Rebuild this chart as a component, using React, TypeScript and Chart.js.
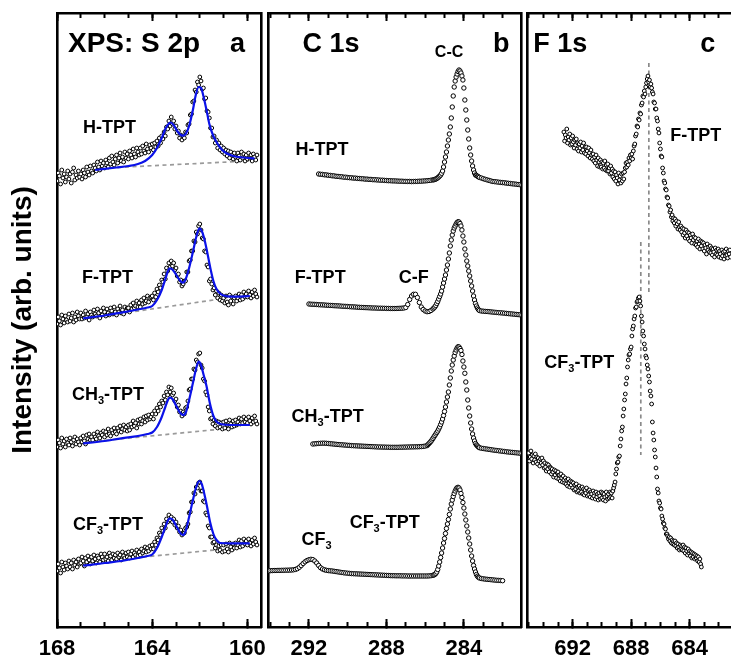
import React, { useEffect, useRef } from "react";
import { Chart, registerables } from "chart.js";

Chart.register(...registerables);

const FONT = '"Liberation Sans", Arial, Helvetica, sans-serif';

// ---------------- Panel a: S 2p (step 0.05 eV from 168.0 eV) ----------------
const aStart = 168.0;
const aStep = 0.05;
const aH = [
  44.6, 45.4, 45.1, 44.3, 45.7, 44.9, 45.3, 44.5, 45.0, 45.6,
  44.8, 45.3, 44.4, 45.5, 45.9, 44.7, 45.2, 44.9, 45.6, 45.0,
  45.3, 44.8, 45.7, 45.4, 45.0, 46.0, 45.5, 45.2, 46.1, 45.6,
  45.4, 46.2, 45.9, 45.6, 46.5, 46.0, 45.7, 46.6, 46.1, 46.4,
  45.9, 46.7, 46.4, 46.0, 46.9, 46.3, 47.1, 46.5, 46.2, 46.8,
  47.2, 46.4, 46.9, 47.4, 46.6, 47.0, 46.5, 47.5, 46.9, 47.3,
  46.8, 47.6, 47.2, 46.9, 47.8, 47.3, 47.0, 47.9, 47.5, 47.2,
  47.9, 47.3, 48.1, 47.6, 47.4, 48.3, 47.8, 47.5, 48.2, 47.9,
  48.3, 47.7, 48.4, 48.0, 48.6, 48.1, 48.9, 48.4, 49.1, 48.8,
  49.5, 49.1, 50.0, 49.8, 50.6, 50.1, 51.0, 50.3, 50.6, 49.8,
  50.1, 49.4, 49.6, 48.9, 49.2, 48.7, 49.1, 48.9, 49.5, 49.4,
  50.2, 50.3, 51.2, 51.3, 52.5, 52.6, 53.7, 53.5, 54.5, 54.2,
  55.0, 54.6, 53.8, 53.9, 52.8, 52.9, 51.6, 51.5, 50.9, 49.9,
  49.9, 49.0, 49.1, 48.4, 48.7, 47.9, 48.4, 47.7, 48.1, 47.5,
  47.9, 47.3, 47.7, 47.1, 47.6, 46.9, 47.5, 47.2, 46.8, 47.4,
  47.0, 46.6, 47.4, 47.1, 46.7, 47.5, 46.9, 47.3, 46.6, 47.2,
  46.8, 47.4, 46.9, 47.2, 46.6, 47.3, 47.0, 46.7, 47.2,
];
const aF = [
  30.3, 31.0, 30.6, 30.2, 31.2, 30.8, 30.4, 31.1, 30.7, 30.5,
  31.3, 30.6, 30.9, 31.4, 30.5, 31.0, 30.7, 31.5, 31.1, 30.8,
  31.4, 30.8, 31.2, 30.9, 31.6, 31.0, 31.3, 30.7, 31.5, 31.2,
  31.0, 31.7, 31.3, 31.1, 31.8, 31.4, 30.9, 31.6, 31.2, 31.9,
  31.5, 31.1, 31.8, 31.4, 31.2, 31.9, 31.6, 31.3, 32.0, 31.5,
  31.2, 31.8, 31.5, 32.1, 31.4, 31.7, 31.3, 32.0, 31.6, 31.9,
  31.9, 31.5, 32.2, 31.8, 32.4, 31.9, 32.1, 32.6, 32.0, 32.4,
  32.0, 32.7, 32.3, 32.9, 32.4, 32.6, 33.1, 32.5, 32.9, 33.0,
  33.1, 32.7, 33.4, 33.0, 33.8, 33.5, 34.2, 33.9, 34.7, 34.5,
  35.3, 34.8, 35.9, 35.6, 36.4, 36.0, 36.6, 36.1, 36.4, 35.7,
  35.9, 35.1, 35.3, 34.5, 34.7, 34.1, 34.3, 34.6, 34.6, 35.5,
  35.5, 36.6, 36.7, 37.6, 37.6, 38.6, 38.5, 39.5, 39.3, 40.1,
  40.3, 39.7, 38.9, 38.8, 37.6, 37.5, 36.2, 36.0, 34.6, 34.8,
  34.3, 33.7, 33.9, 33.2, 33.6, 32.9, 33.4, 32.7, 33.2, 32.6,
  32.9, 32.4, 33.1, 32.5, 32.2, 33.2, 32.6, 33.0, 32.3, 32.9,
  33.1, 32.6, 32.9, 33.3, 32.7, 33.2, 32.8, 33.5, 33.0, 33.3,
  33.0, 33.6, 33.2, 32.9, 33.5, 33.1, 33.7, 33.3, 33.0,
];
const aCH3 = [
  18.0, 18.7, 18.4, 17.9, 18.9, 18.3, 18.6, 18.0, 18.8, 18.4,
  18.2, 18.9, 18.5, 18.1, 18.7, 19.0, 18.3, 18.8, 18.5, 18.2,
  18.9, 18.5, 19.1, 18.6, 18.3, 19.2, 18.8, 19.3, 18.7, 19.0,
  18.7, 19.3, 19.0, 18.8, 19.5, 19.1, 18.9, 19.4, 19.2, 19.6,
  19.0, 19.5, 19.2, 19.8, 19.3, 19.1, 19.7, 19.4, 19.9, 19.5,
  19.3, 19.9, 19.6, 20.1, 19.5, 19.8, 20.2, 19.7, 20.0, 19.6,
  20.2, 19.7, 20.3, 20.0, 20.6, 20.1, 20.4, 19.9, 20.7, 20.3,
  20.8, 20.3, 20.6, 21.0, 20.5, 21.1, 20.7, 21.2, 20.8, 21.0,
  21.3, 20.8, 21.6, 21.3, 21.9, 21.6, 22.3, 22.0, 22.6, 22.4,
  23.1, 22.7, 23.5, 23.2, 24.0, 23.5, 23.9, 23.2, 23.4, 22.6,
  22.8, 22.0, 22.2, 21.5, 21.6, 21.1, 21.5, 21.3, 21.9, 22.0,
  22.6, 23.7, 23.8, 24.8, 24.8, 25.8, 25.7, 26.7, 26.5, 27.3,
  27.4, 26.2, 25.9, 24.8, 24.6, 23.5, 23.2, 22.0, 21.6, 20.8,
  20.9, 20.3, 20.7, 20.1, 20.6, 19.9, 20.5, 20.0, 20.4, 19.8,
  20.5, 19.9, 20.6, 20.2, 19.8, 20.7, 20.3, 20.0, 20.6, 20.1,
  20.7, 20.2, 20.5, 20.9, 20.3, 20.8, 20.4, 21.0, 20.5, 20.8,
  20.4, 21.0, 20.6, 20.3, 20.9, 20.5, 21.1, 20.6, 20.3,
];
const aCF3 = [
  5.6, 6.3, 5.9, 5.4, 6.5, 6.0, 5.7, 6.4, 6.1, 5.8,
  6.6, 6.0, 6.4, 5.8, 6.7, 6.2, 6.5, 6.0, 6.8, 6.3,
  6.4, 7.0, 6.6, 6.1, 6.9, 6.5, 7.1, 6.7, 6.3, 7.0,
  6.6, 7.2, 6.8, 6.4, 7.1, 6.9, 6.5, 7.3, 7.0, 6.7,
  7.3, 6.8, 7.0, 6.6, 7.4, 7.1, 6.7, 7.3, 6.9, 7.2,
  6.8, 7.4, 7.0, 7.2, 6.7, 7.5, 7.1, 6.9, 7.4, 7.0,
  7.5, 6.9, 7.3, 7.6, 7.0, 7.4, 7.2, 7.7, 7.1, 7.5,
  7.2, 7.8, 7.4, 7.6, 8.0, 7.5, 7.9, 7.6, 8.1, 7.8,
  8.2, 7.8, 8.5, 8.2, 8.9, 8.7, 9.4, 9.2, 9.9, 9.6,
  10.3, 9.9, 10.8, 10.5, 11.2, 10.7, 11.0, 10.5, 10.8, 10.2,
  10.5, 9.9, 10.1, 9.5, 9.7, 9.2, 9.4, 9.4, 9.9, 10.0,
  10.3, 11.4, 11.5, 12.5, 12.5, 13.4, 13.3, 14.0, 13.9, 14.4,
  14.5, 13.6, 13.6, 12.6, 12.5, 11.4, 11.2, 10.1, 9.9, 9.0,
  9.0, 8.4, 8.5, 7.9, 8.2, 7.6, 8.1, 7.7, 8.2, 7.5,
  8.2, 7.6, 8.3, 7.8, 7.5, 8.4, 8.0, 7.7, 8.3, 7.9,
  8.4, 7.9, 8.2, 8.7, 8.0, 8.6, 8.1, 8.8, 8.3, 8.6,
  8.2, 8.8, 8.4, 8.1, 8.7, 8.3, 8.9, 8.5, 8.2,
];
// fitted envelopes [binding energy, intensity]
const aFitH = [
  [166.4, 45.7], [165.5, 45.95], [165.0, 46.1], [164.6, 46.3], [164.3, 46.6], [164.0, 47.2],
  [163.8, 47.9], [163.6, 48.9], [163.45, 49.8], [163.3, 50.35], [163.22, 50.45], [163.1, 50.2],
  [162.95, 49.6], [162.8, 49.2], [162.7, 49.13], [162.58, 49.35], [162.45, 50.1], [162.3, 51.6],
  [162.17, 53.2], [162.05, 54.0], [161.95, 53.9], [161.85, 53.1], [161.72, 51.7], [161.6, 50.3],
  [161.45, 49.2], [161.3, 48.5], [161.1, 47.8], [160.9, 47.4], [160.6, 47.1], [160.2, 46.95], [159.7, 46.85],
];
const aFitF = [
  [166.9, 30.87], [166.0, 31.15], [165.3, 31.43], [164.6, 31.75], [164.2, 31.95], [164.0, 32.1],
  [163.8, 32.7], [163.6, 33.7], [163.45, 34.8], [163.32, 35.7], [163.25, 35.87], [163.15, 35.75],
  [163.0, 35.25], [162.85, 34.7], [162.72, 34.43], [162.6, 34.75], [162.45, 35.9], [162.3, 37.4],
  [162.15, 39.0], [162.02, 39.87], [161.9, 39.5], [161.8, 38.7], [161.7, 37.6], [161.55, 35.8],
  [161.43, 34.6], [161.3, 33.8], [161.15, 33.35], [161.0, 33.15], [160.66, 33.03], [159.9, 33.1],
];
const aFitCH3 = [
  [166.9, 18.37], [166.0, 18.6], [165.3, 18.87], [164.6, 19.1], [164.2, 19.3], [164.0, 19.45],
  [163.8, 20.0], [163.6, 21.0], [163.45, 22.0], [163.32, 22.8], [163.25, 22.93], [163.15, 22.8],
  [163.0, 22.15], [162.85, 21.5], [162.7, 21.2], [162.58, 21.5], [162.45, 22.7], [162.3, 24.3],
  [162.15, 25.9], [162.05, 26.55], [161.95, 26.2], [161.85, 25.3], [161.72, 24.1], [161.58, 22.4],
  [161.43, 21.1], [161.3, 20.55], [161.1, 20.28], [160.7, 20.2], [159.9, 20.2],
];
const aFitCF3 = [
  [166.9, 6.13], [166.0, 6.4], [165.3, 6.6], [164.6, 6.9], [164.2, 7.1], [164.0, 7.25],
  [163.8, 7.9], [163.6, 9.0], [163.45, 10.0], [163.32, 10.75], [163.25, 10.87], [163.15, 10.75],
  [163.0, 10.15], [162.85, 9.5], [162.72, 9.2], [162.6, 9.55], [162.45, 11.0], [162.3, 12.6],
  [162.15, 14.0], [162.03, 14.6], [161.92, 14.3], [161.82, 13.4], [161.71, 12.2], [161.57, 10.5],
  [161.43, 9.3], [161.3, 8.7], [161.15, 8.4], [160.7, 8.37], [159.9, 8.37],
];
// background lines
const aBgH = [[166.4, 45.85], [159.7, 46.63]];
const aBgF = [[166.9, 30.8], [161.0, 32.85]];
const aBgCH3 = [[166.9, 18.45], [161.4, 19.72]];
const aBgCF3 = [[166.9, 6.4], [161.3, 7.72]];

// ---------------- Panel b: C 1s (segments: 0.1 eV / 0.05 eV / 0.1 eV) ----------------
const bH_starts = [291.5, 285.55, 283.1];
const bH_left = [
  45.30, 45.27, 45.26, 45.22, 45.21, 45.17, 45.16, 45.12, 45.11, 45.07,
  45.06, 45.03, 45.02, 44.98, 44.98, 44.95, 44.93, 44.92, 44.89, 44.89,
  44.86, 44.85, 44.83, 44.82, 44.79, 44.79, 44.76, 44.76, 44.73, 44.73,
  44.71, 44.70, 44.68, 44.68, 44.66, 44.65, 44.63, 44.63, 44.61, 44.61,
  44.60, 44.59, 44.58, 44.58, 44.56, 44.56, 44.55, 44.56, 44.54, 44.55,
  44.56, 44.56, 44.58, 44.58, 44.60, 44.61, 44.63, 44.65, 44.68, 44.71,
];
const bH_peak = [
  44.73, 44.75, 44.80, 44.85, 44.92, 45.00, 45.10, 45.20, 45.37, 45.60,
  46.00, 46.50, 47.00, 47.50, 48.10, 48.70, 49.30, 50.00, 50.90, 52.00,
  53.10, 54.00, 54.60, 55.00, 55.30, 55.55, 55.70, 55.60, 55.40, 55.10,
  54.70, 53.90, 52.70, 51.70, 50.70, 49.70, 48.80, 47.90, 47.20, 46.60,
  46.10, 45.70, 45.40, 45.20, 45.15, 45.08, 45.02, 44.96,
];
const bH_right = [
  44.90, 44.83, 44.77, 44.71, 44.66, 44.60, 44.55, 44.53, 44.51, 44.48, 44.46,
  44.44, 44.42, 44.39, 44.37, 44.35, 44.32, 44.30, 44.28, 44.25, 44.23, 44.20,
];
const bF_starts = [292.0, 285.55, 283.1];
const bF_left = [
  32.30, 32.28, 32.27, 32.26, 32.25, 32.23, 32.22, 32.21, 32.20, 32.18,
  32.17, 32.16, 32.15, 32.13, 32.12, 32.11, 32.10, 32.08, 32.07, 32.06,
  32.05, 32.03, 32.02, 32.01, 32.00, 31.98, 31.97, 31.96, 31.95, 31.94,
  31.93, 31.92, 31.91, 31.90, 31.90, 31.89, 31.88, 31.88, 31.87, 31.87,
  31.86, 31.86, 31.85, 31.85, 31.85, 31.85, 31.86, 31.87, 31.88, 31.90,
  31.95, 32.25, 32.75, 33.10, 33.27, 33.27, 32.95, 32.45, 32.00, 31.75,
  31.60, 31.53, 31.55, 31.65, 31.80,
];
const bF_peak = [
  31.90, 32.00, 32.15, 32.35, 32.55, 32.80, 33.05, 33.30, 33.60, 34.00,
  34.40, 34.80, 35.20, 35.70, 36.20, 36.80, 37.40, 38.10, 38.70, 39.20,
  39.60, 39.90, 40.10, 40.30, 40.45, 40.53, 40.50, 40.35, 40.10, 39.70,
  39.10, 38.50, 37.80, 37.20, 36.60, 36.10, 35.60, 35.10, 34.60, 34.10,
  33.60, 33.10, 32.70, 32.35, 32.10, 31.90, 31.75, 31.65,
];
const bF_right = [
  31.60, 31.58, 31.56, 31.55, 31.53, 31.51, 31.49, 31.47, 31.45, 31.43, 31.42,
  31.40, 31.38, 31.36, 31.34, 31.32, 31.30, 31.28, 31.26, 31.24, 31.22, 31.20,
];
const bCH3_starts = [291.8, 285.85, 283.1];
const bCH3_left = [
  18.30, 18.32, 18.34, 18.36, 18.37, 18.38, 18.38, 18.37, 18.35, 18.33,
  18.31, 18.29, 18.27, 18.25, 18.23, 18.22, 18.20, 18.19, 18.17, 18.16,
  18.14, 18.13, 18.12, 18.11, 18.10, 18.09, 18.08, 18.07, 18.06, 18.05,
  18.04, 18.03, 18.02, 18.01, 18.00, 18.00, 17.99, 17.99, 17.98, 17.98,
  17.97, 17.97, 17.97, 17.97, 17.97, 17.98, 17.98, 17.99, 17.99, 18.00,
  18.00, 18.01, 18.01, 18.02, 18.02, 18.03, 18.04, 18.06, 18.09, 18.14,
];
const bCH3_peak = [
  18.25, 18.35, 18.45, 18.57, 18.70, 18.85, 19.00, 19.15, 19.30, 19.45,
  19.60, 19.80, 20.00, 20.25, 20.50, 20.80, 21.15, 21.55, 22.00, 22.50,
  23.00, 23.50, 24.20, 24.90, 25.60, 26.20, 26.70, 27.10, 27.45, 27.70,
  27.90, 28.03, 28.00, 27.85, 27.65, 27.25, 26.60, 26.00, 25.37, 24.50,
  23.70, 22.70, 21.90, 21.10, 20.40, 19.80, 19.30, 18.90, 18.60, 18.35,
  18.20, 18.10, 18.00, 17.93,
];
const bCH3_right = [
  17.88, 17.85, 17.82, 17.79, 17.76, 17.73, 17.70, 17.67, 17.65, 17.62, 17.60,
  17.57, 17.55, 17.52, 17.50, 17.48, 17.46, 17.44, 17.42, 17.40, 17.38, 17.37,
];
const bCF3_starts = [294.1, 285.55, 283.1];
const bCF3_left = [
  5.62, 5.63, 5.64, 5.65, 5.65, 5.66, 5.66, 5.67, 5.67, 5.68, 5.68, 5.69,
  5.70, 5.72, 5.76, 5.83, 5.97, 6.15, 6.35, 6.52, 6.65, 6.73,
  6.77, 6.74, 6.60, 6.40, 6.15, 5.93, 5.80, 5.72, 5.67, 5.64,
  5.62, 5.60, 5.57, 5.54, 5.51, 5.48, 5.45, 5.42, 5.40, 5.38,
  5.36, 5.34, 5.33, 5.32, 5.31, 5.30, 5.29, 5.28, 5.27, 5.26,
  5.25, 5.24, 5.23, 5.22, 5.21, 5.20, 5.19, 5.18, 5.17, 5.16,
  5.15, 5.14, 5.13, 5.13, 5.12, 5.12, 5.12, 5.11, 5.11, 5.11,
  5.10, 5.10, 5.10, 5.10, 5.10, 5.10, 5.10, 5.10, 5.10, 5.10,
  5.10, 5.11, 5.13, 5.17,
];
const bCF3_peak = [
  5.20, 5.25, 5.35, 5.50, 5.75, 6.10, 6.50, 6.95, 7.40, 7.90,
  8.40, 8.85, 9.35, 9.85, 10.30, 10.75, 11.25, 11.80, 12.30, 12.70,
  13.05, 13.35, 13.60, 13.80, 13.93, 13.97, 13.90, 13.70, 13.35, 12.95,
  12.45, 11.90, 11.30, 10.70, 10.10, 9.50, 8.90, 8.30, 7.70, 7.10,
  6.60, 6.15, 5.80, 5.50, 5.25, 5.08, 4.97, 4.90,
];
const bCF3_right = [4.85, 4.82, 4.79, 4.77, 4.75, 4.73, 4.71, 4.69, 4.67, 4.66, 4.65, 4.63];

// ---------------- Panel c: F 1s (step 0.05 eV) ----------------
const cStep = 0.05;
const cF_start = 692.6;
const cF = [
  49.5, 48.6, 49.2, 48.9, 49.8, 48.4, 49.0, 48.7, 49.3, 48.2,
  48.9, 48.3, 49.1, 48.5, 47.9, 48.7, 48.2, 48.8, 47.8, 48.4,
  47.6, 48.3, 47.9, 48.5, 47.5, 48.1, 47.7, 48.4, 47.4, 48.0,
  47.3, 48.0, 47.6, 47.1, 47.9, 47.4, 46.9, 47.7, 47.2, 46.8,
  47.3, 46.6, 47.0, 46.4, 47.2, 46.7, 46.1, 46.9, 46.5, 46.0,
  46.7, 46.0, 46.5, 45.8, 46.4, 45.9, 46.6, 45.7, 46.2, 45.6,
  46.3, 45.6, 45.9, 45.3, 46.1, 45.4, 45.8, 45.0, 45.6, 44.8,
  45.5, 44.6, 45.2, 44.9, 44.3, 45.4, 44.7, 45.1, 44.4, 45.3,
  44.6, 45.4, 44.8, 45.5, 45.9, 46.4, 46.0, 46.5, 46.2, 46.9,
  46.6, 47.2, 46.9, 47.3, 46.8, 47.6, 48.1, 48.3, 49.1, 49.3,
  50.1, 50.0, 50.8, 50.7, 51.4, 51.3, 52.2, 52.4, 53.1, 53.0,
  53.6, 53.3, 54.0, 54.4, 54.8, 55.1, 54.5, 54.7, 54.0, 54.3,
  53.9, 53.5, 53.3, 52.5, 52.4, 51.8, 51.8, 50.9, 50.6, 49.8,
  49.4, 48.4, 47.8, 47.1, 47.0, 45.9, 45.4, 44.6, 44.4, 43.8,
  43.7, 43.0, 42.9, 42.2, 42.1, 41.5, 41.7, 41.0, 41.2, 40.6,
  40.9, 40.4, 40.8, 40.1, 40.6, 40.3, 39.8, 40.5, 40.0, 39.7,
  40.1, 39.5, 39.9, 39.2, 39.8, 39.4, 38.9, 39.7, 39.1, 39.5,
  38.8, 39.4, 38.6, 39.2, 38.9, 38.4, 39.3, 38.7, 39.0, 38.3,
  38.9, 38.2, 38.6, 38.0, 38.8, 38.3, 37.8, 38.6, 38.1, 38.5,
  37.8, 38.4, 37.6, 38.2, 37.9, 37.3, 38.3, 37.7, 38.0, 37.5,
  38.1, 37.4, 37.9, 37.2, 37.8, 37.5, 37.0, 37.9, 37.3, 37.7,
  37.2, 37.8, 37.0, 37.6, 37.3, 36.9, 37.7, 37.1, 37.5, 36.8,
  37.6, 37.1, 37.8, 37.2, 36.9, 37.6, 37.3, 37.7, 37.0,
];
const cCF3_start = 695.0;
const cCF3 = [
  17.4, 16.6, 17.0, 17.6, 16.8, 17.2, 16.4, 17.1, 16.7, 17.3,
  16.5, 17.0, 16.3, 16.9, 16.6, 16.1, 16.8, 16.4, 16.9, 16.2,
  16.6, 15.9, 16.4, 16.0, 15.6, 16.3, 15.8, 16.2, 15.5, 16.0,
  15.9, 15.3, 15.8, 15.5, 15.0, 15.7, 15.2, 15.6, 14.9, 15.4,
  15.5, 14.8, 15.2, 14.6, 15.3, 14.9, 14.5, 15.1, 14.7, 14.4,
  14.9, 14.3, 14.7, 14.1, 14.8, 14.4, 14.0, 14.6, 14.2, 14.5,
  13.9, 14.4, 13.7, 14.2, 13.8, 14.3, 13.5, 14.0, 13.6, 14.1,
  13.4, 13.9, 13.5, 14.0, 13.3, 13.8, 13.2, 13.7, 13.4, 13.9,
  13.1, 13.6, 13.2, 13.7, 13.0, 13.5, 13.3, 12.9, 13.6, 13.1,
  13.4, 12.8, 13.5, 13.0, 13.3, 12.7, 13.4, 13.1, 12.8, 13.5,
  12.9, 13.4, 12.7, 13.3, 13.0, 12.6, 13.5, 13.1, 12.8, 13.3,
  12.9, 13.5, 13.0, 13.4, 12.9, 13.6, 13.9, 14.2, 14.5, 15.3,
  15.8, 16.4, 16.5, 17.0, 17.1, 18.1, 18.8, 19.6, 20.0, 21.1,
  21.8, 22.7, 23.3, 24.3, 24.9, 26.0, 26.7, 27.2, 27.3, 27.8,
  28.0, 29.1, 29.8, 30.1, 30.8, 31.1, 31.9, 32.0, 32.5, 32.6,
  32.9, 33.0, 32.6, 32.1, 31.1, 30.5, 29.6, 29.1, 28.3, 27.8,
  27.1, 26.9, 26.2, 25.8, 25.1, 24.5, 23.6, 23.1, 22.3, 20.5,
  19.4, 18.7, 17.7, 17.0, 15.9, 15.0, 13.8, 13.4, 12.6, 12.4,
  11.9, 11.8, 11.1, 10.8, 10.4, 10.3, 9.9, 9.8, 9.3, 9.3,
  9.1, 8.8, 9.0, 8.6, 8.9, 8.4, 8.7, 8.3, 8.6, 8.2,
  8.6, 8.1, 8.4, 7.9, 8.3, 8.0, 7.7, 8.2, 7.8, 8.1,
  7.7, 8.2, 7.6, 8.0, 7.4, 7.9, 7.6, 7.2, 7.8, 7.4,
  7.6, 7.1, 7.5, 6.9, 7.4, 7.0, 7.3, 6.8, 7.2, 6.9,
  7.1, 6.6, 7.0, 6.5, 6.8, 6.3, 6.0,
];
const cMarkF = [[686.79, 56.4], [686.79, 33.5]];
const cMarkCF3 = [[687.34, 38.5], [687.34, 17.2]];

// ---------------- text annotations ----------------
type Lbl = { t: string; e: number; i: number; s: number };
const labelsA: Lbl[] = [
  { t: "XPS: S 2p", e: 167.54, i: 57.5, s: 28 },
  { t: "a", e: 160.73, i: 57.5, s: 27 },
  { t: "H-TPT", e: 166.91, i: 49.4, s: 18 },
  { t: "F-TPT", e: 166.95, i: 34.4, s: 18 },
  { t: "CH_3-TPT", e: 167.37, i: 22.7, s: 18 },
  { t: "CF_3-TPT", e: 167.33, i: 9.7, s: 18 },
];
const labelsB: Lbl[] = [
  { t: "C 1s", e: 292.33, i: 57.5, s: 27 },
  { t: "b", e: 282.5, i: 57.5, s: 27 },
  { t: "C-C", e: 285.5, i: 57.0, s: 16 },
  { t: "H-TPT", e: 292.69, i: 47.2, s: 18 },
  { t: "F-TPT", e: 292.74, i: 34.4, s: 18 },
  { t: "C-F", e: 287.36, i: 34.4, s: 18 },
  { t: "CH_3-TPT", e: 292.9, i: 20.5, s: 18 },
  { t: "CF_3-TPT", e: 289.9, i: 9.9, s: 18 },
  { t: "CF_3", e: 292.38, i: 8.2, s: 18 },
];
const labelsC: Lbl[] = [
  { t: "F 1s", e: 694.69, i: 57.5, s: 27 },
  { t: "c", e: 683.27, i: 57.5, s: 27 },
  { t: "F-TPT", e: 685.32, i: 48.6, s: 18 },
  { t: "CF_3-TPT", e: 693.94, i: 25.9, s: 18 },
];

// ---------------- helpers ----------------
type Pt = { x: number; y: number };
const grid = (start: number, step: number, ys: number[]): Pt[] =>
  ys.map((y, i) => ({ x: Math.round((start - i * step) * 1000) / 1000, y }));
const pairs = (arr: number[][]): Pt[] => arr.map(([x, y]) => ({ x, y }));
const segs = (starts: number[], l: number[], p: number[], r: number[]): Pt[] => [
  ...grid(starts[0], 0.1, l),
  ...grid(starts[1], 0.05, p),
  ...grid(starts[2], 0.1, r),
];

const ptsDS = (data: Pt[], r = 1.9) => ({
  type: "scatter",
  data,
  showLine: false,
  pointRadius: r,
  pointBorderWidth: 1,
  pointBorderColor: "#000",
  pointBackgroundColor: "#fff",
  order: 2,
});
const fitDS = (data: Pt[]) => ({
  type: "line",
  data,
  borderColor: "#0b12e8",
  borderWidth: 2.2,
  pointRadius: 0,
  cubicInterpolationMode: "monotone",
  fill: false,
  order: 1,
});
const dashDS = (data: Pt[], color: string) => ({
  type: "line",
  data,
  borderColor: color,
  borderWidth: 1.7,
  borderDash: [4, 3.5],
  pointRadius: 0,
  fill: false,
  order: 3,
});

function drawRich(ctx: CanvasRenderingContext2D, text: string, x: number, y: number, size: number) {
  const parts = text.split(/_(.)/);
  let cx = x;
  parts.forEach((p, idx) => {
    const sub = idx % 2 === 1;
    const fs = sub ? Math.round(size * 0.62) : size;
    ctx.font = `bold ${fs}px ${FONT}`;
    ctx.fillText(p, cx, sub ? y + size * 0.24 : y);
    cx += ctx.measureText(p).width;
  });
}

const textPlugin = (items: Lbl[]) => ({
  id: "texts",
  afterDatasetsDraw(chart: any) {
    const { ctx, scales } = chart;
    ctx.save();
    ctx.fillStyle = "#000";
    ctx.textBaseline = "alphabetic";
    ctx.textAlign = "left";
    for (const it of items) {
      drawRich(ctx, it.t, scales.x.getPixelForValue(it.e), scales.y.getPixelForValue(it.i), it.s);
    }
    ctx.restore();
  },
});

const Y_MIN = 0;
const Y_MAX = 61.4;

function xAxes(min: number, max: number) {
  const base = { type: "linear", min, max, reverse: true, display: true };
  const tickGrid = (len: number) => ({
    display: true,
    drawOnChartArea: false,
    drawTicks: true,
    tickLength: len,
    tickWidth: 2,
    tickColor: "#000",
  });
  const hidden = (step: number) => ({
    display: false,
    stepSize: step,
    includeBounds: false,
    maxTicksLimit: 100,
    autoSkip: false,
  });
  const border = { display: true, color: "#000", width: 2.6 };
  const zeroH = (s: any) => {
    s.height = 0;
    s.paddingLeft = 0;
    s.paddingRight = 0;
  };
  return {
    x: {
      ...base,
      position: "bottom",
      weight: 1,
      afterFit: (s: any) => {
        s.height = 35;
        s.paddingLeft = 0;
        s.paddingRight = 0;
      },
      ticks: {
        stepSize: 4,
        includeBounds: false,
        maxTicksLimit: 100,
        autoSkip: false,
        maxRotation: 0,
        padding: 17,
        color: "#000",
        font: { family: FONT, size: 22, weight: "bold" },
        callback: (v: any) => {
          const n = Number(v);
          return Math.abs(n / 4 - Math.round(n / 4)) < 1e-6 ? String(Math.round(n)) : "";
        },
      },
      grid: tickGrid(-8),
      border,
    },
    xm: { ...base, position: "bottom", weight: 0, afterFit: zeroH, ticks: hidden(1), grid: tickGrid(-5), border: { display: false } },
    xt: { ...base, position: "top", weight: 1, afterFit: zeroH, ticks: hidden(4), grid: tickGrid(-8), border },
    xtm: { ...base, position: "top", weight: 0, afterFit: zeroH, ticks: hidden(1), grid: tickGrid(-5), border: { display: false } },
  };
}

function yAxes(leftWidth: number, withTitle: boolean, rightBorder: boolean) {
  const border = { display: true, color: "#000", width: 2.6 };
  return {
    y: {
      type: "linear",
      min: Y_MIN,
      max: Y_MAX,
      position: "left",
      display: true,
      afterFit: (s: any) => {
        s.width = leftWidth;
      },
      ticks: { display: false },
      grid: { display: false },
      border,
      title: {
        display: withTitle,
        text: "Intensity (arb. units)",
        color: "#000",
        font: { family: FONT, size: 28, weight: "bold" },
        padding: { top: 6, bottom: 0 },
      },
    },
    yr: {
      type: "linear",
      min: Y_MIN,
      max: Y_MAX,
      position: "right",
      display: true,
      afterFit: (s: any) => {
        s.width = 0;
      },
      ticks: { display: false },
      grid: { display: false },
      border: rightBorder ? border : { display: false },
    },
  };
}

type Spec = {
  min: number;
  max: number;
  padding: { left: number; right: number; top: number; bottom: number };
  yWidth: number;
  title: boolean;
  rightBorder: boolean;
  datasets: any[];
  labels: Lbl[];
};

function makeConfig(p: Spec): any {
  return {
    type: "scatter",
    data: { datasets: p.datasets },
    options: {
      animation: false,
      responsive: false,
      devicePixelRatio: 1,
      events: [],
      layout: { padding: p.padding },
      plugins: { legend: { display: false }, tooltip: { enabled: false }, title: { display: false } },
      scales: { ...xAxes(p.min, p.max), ...yAxes(p.yWidth, p.title, p.rightBorder) },
    },
    plugins: [textPlugin(p.labels)],
  };
}

const specA = (): Spec => ({
  min: 159.43,
  max: 168,
  padding: { left: 0, right: 14, top: 13, bottom: 0 },
  yWidth: 57,
  title: true,
  rightBorder: true,
  labels: labelsA,
  datasets: [
    fitDS(pairs(aFitH)),
    fitDS(pairs(aFitF)),
    fitDS(pairs(aFitCH3)),
    fitDS(pairs(aFitCF3)),
    ptsDS(grid(aStart, aStep, aH)),
    ptsDS(grid(aStart, aStep, aF)),
    ptsDS(grid(aStart, aStep, aCH3)),
    ptsDS(grid(aStart, aStep, aCF3)),
    dashDS(pairs(aBgH), "#9a9a9a"),
    dashDS(pairs(aBgF), "#9a9a9a"),
    dashDS(pairs(aBgCH3), "#9a9a9a"),
    dashDS(pairs(aBgCF3), "#9a9a9a"),
  ],
});

const specB = (): Spec => ({
  min: 281.05,
  max: 294.1,
  padding: { left: 5.3, right: 14, top: 13, bottom: 0 },
  yWidth: 0,
  title: false,
  rightBorder: true,
  labels: labelsB,
  datasets: [
    ptsDS(segs(bH_starts, bH_left, bH_peak, bH_right), 2.2),
    ptsDS(segs(bF_starts, bF_left, bF_peak, bF_right), 2.2),
    ptsDS(segs(bCH3_starts, bCH3_left, bCH3_peak, bCH3_right), 2.2),
    ptsDS(segs(bCF3_starts, bCF3_left, bCF3_peak, bCF3_right), 2.2),
  ],
});

const specC = (): Spec => ({
  min: 680.49,
  max: 695.1,
  padding: { left: 5.3, right: 15, top: 13, bottom: 0 },
  yWidth: 0,
  title: false,
  rightBorder: false,
  labels: labelsC,
  datasets: [
    dashDS(pairs(cMarkF), "#8a8a8a"),
    dashDS(pairs(cMarkCF3), "#8a8a8a"),
    ptsDS(grid(cF_start, cStep, cF)),
    ptsDS(grid(cCF3_start, cStep, cCF3)),
  ],
});

function Panel({ left, width, spec }: { left: number; width: number; spec: () => Spec }) {
  const ref = useRef<HTMLCanvasElement>(null);
  useEffect(() => {
    if (!ref.current) return;
    const chart = new Chart(ref.current, makeConfig(spec()));
    return () => chart.destroy();
  }, []);
  return (
    <canvas
      ref={ref}
      width={width}
      height={662}
      style={{ position: "absolute", left, top: 0, width, height: 662 }}
    />
  );
}

export default function App() {
  return (
    <div
      style={{
        position: "fixed",
        left: 0,
        top: 0,
        width: 731,
        height: 662,
        overflow: "hidden",
        background: "#fff",
      }}
    >
      <Panel left={0} width={275} spec={specA} />
      <Panel left={263} width={272} spec={specB} />
      <Panel left={522} width={234} spec={specC} />
    </div>
  );
}
